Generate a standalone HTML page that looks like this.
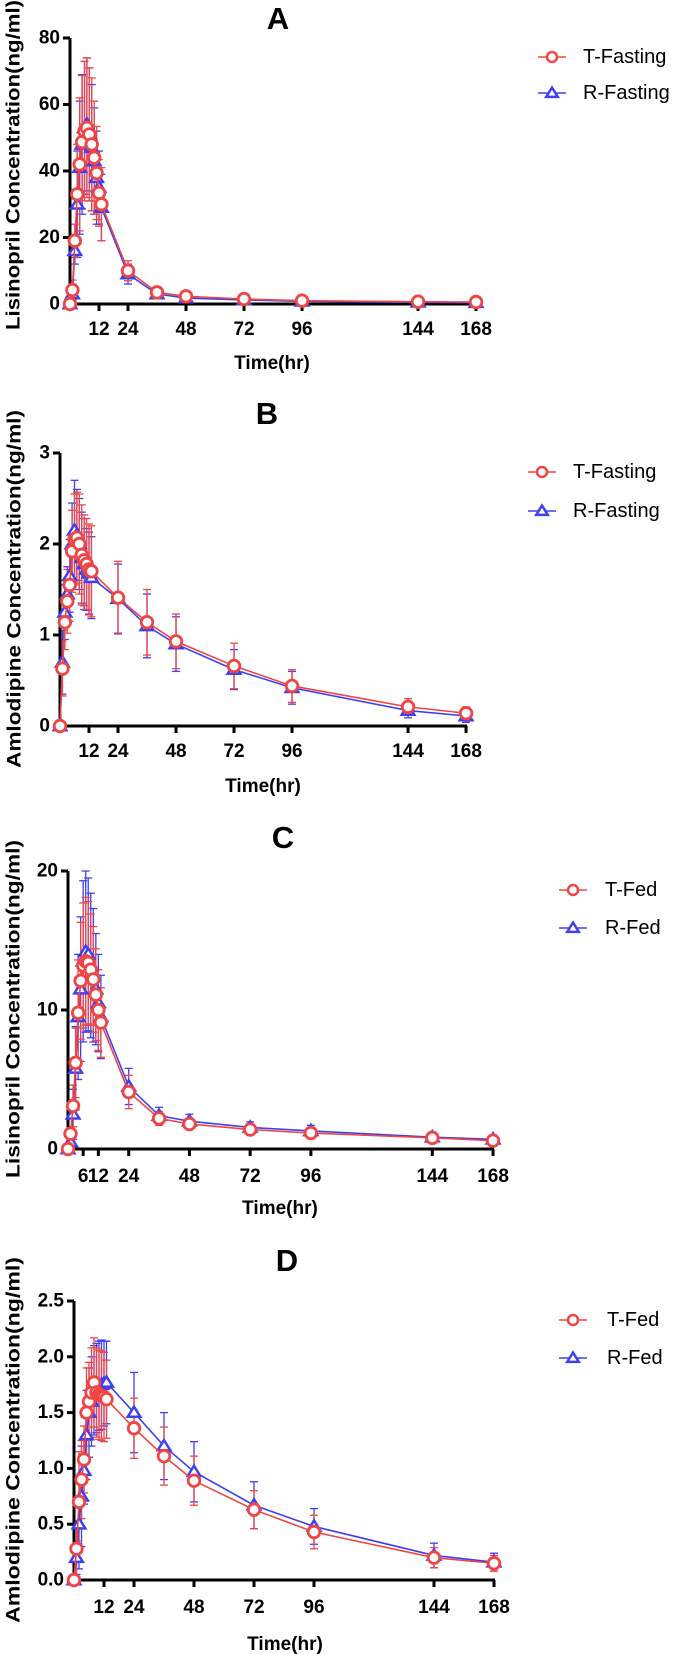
<!DOCTYPE html>
<html><head><meta charset="utf-8">
<style>
html,body{margin:0;padding:0;background:#fff;}
svg{display:block;font-family:"Liberation Sans",Arial,sans-serif;}
</style></head>
<body>
<svg id="fig" width="677" height="1655" viewBox="0 0 677 1655" xmlns="http://www.w3.org/2000/svg"></svg>
<script>
// shared sampling times (hours)
const times = [0,1,2,3,4,5,6,7,8,9,10,11,12,13,24,36,48,72,96,144,168];

// Panel A - Lisinopril fasting
const aT = [0,4.2,19,33,42,48.7,52,53,51,48,44,39.4,33.4,30,10,3.5,2.3,1.5,1.0,0.7,0.6];
const aR = [0,3,16,30,41,48,53,54,51,47,43,38,35,29,9,3,1.8,1.2,0.8,0.5,0.4];
const aTsd = [0,3,5,15,20,20,21,21,20,20,17,14,10,11,3,1,0.8,0.5,0.4,0.3,0.3];
const aRsd = [0,3,4,16,20,21,20,20,20,19,16,14,11,10,3,1,0.8,0.5,0.4,0.3,0.3];
// Panel B - Amlodipine fasting
const bT = [0,0.63,1.14,1.37,1.55,1.92,2.05,2.07,2.0,1.88,1.82,1.78,1.72,1.70,1.41,1.14,0.93,0.66,0.44,0.21,0.14];
const bR = [0,0.7,1.25,1.45,1.65,2.0,2.15,2.1,2.0,1.85,1.78,1.72,1.68,1.63,1.40,1.10,0.90,0.62,0.42,0.17,0.11];
const bTsd = [0,0.3,0.3,0.35,0.4,0.45,0.5,0.5,0.55,0.55,0.5,0.5,0.5,0.5,0.4,0.36,0.3,0.25,0.18,0.09,0.07];
const bRsd = [0,0.35,0.3,0.3,0.4,0.45,0.55,0.5,0.5,0.5,0.5,0.45,0.45,0.45,0.38,0.35,0.3,0.22,0.18,0.08,0.07];
// Panel C - Lisinopril fed
const cT = [0,1.1,3.1,6.2,9.8,12.1,13.2,13.5,13.4,12.9,12.2,11.1,10.0,9.1,4.1,2.2,1.8,1.4,1.15,0.8,0.6];
const cR = [0,0.5,2.5,5.8,9.5,11.5,13.5,14.2,14.0,13.2,12.5,11.5,10.5,9.5,4.5,2.4,2.0,1.55,1.3,0.85,0.7];
const cTsd = [0,0.5,1.5,2.5,3.8,4.2,4.5,4.6,4.4,4.0,3.8,3.3,2.9,2.5,1.2,0.5,0.4,0.35,0.3,0.3,0.25];
const cRsd = [0,0.6,1.8,3.0,4.5,5.2,5.8,5.8,5.5,5.2,4.8,4.0,3.5,3.0,1.3,0.6,0.5,0.4,0.4,0.35,0.3];
// Panel D - Amlodipine fed
const dT = [0,0.28,0.7,0.9,1.08,1.5,1.6,1.68,1.77,1.68,1.66,1.65,1.64,1.62,1.36,1.11,0.89,0.63,0.43,0.2,0.15];
const dR = [0,0.2,0.5,0.75,0.98,1.3,1.5,1.6,1.7,1.72,1.74,1.75,1.76,1.77,1.5,1.2,0.97,0.67,0.48,0.22,0.16];
const dTsd = [0,0.25,0.45,0.35,0.3,0.4,0.35,0.4,0.4,0.4,0.4,0.4,0.4,0.35,0.27,0.26,0.22,0.17,0.15,0.09,0.07];
const dRsd = [0,0.15,0.4,0.45,0.3,0.4,0.4,0.4,0.4,0.4,0.4,0.4,0.38,0.37,0.36,0.3,0.27,0.21,0.16,0.11,0.08];

const ticksA = [0,20,40,60,80];
const ticksB = [0,1,2,3];
const ticksC = [0,10,20];
const ticksD = [0,0.5,1.0,1.5,2.0,2.5];
const xTicksStd = [12,24,48,72,96,144,168];
const xTicksC = [6,12,24,48,72,96,144,168];

const RED = '#f04545', BLUE = '#4040ee';
const NS = 'http://www.w3.org/2000/svg';
const svg = document.getElementById('fig');
function mk(tag, attrs, parent){
  const e = document.createElementNS(NS, tag);
  for (const k in attrs) e.setAttribute(k, attrs[k]);
  (parent||svg).appendChild(e);
  return e;
}
function txt(s, attrs, parent){ const e = mk('text', attrs, parent); e.textContent = s; return e; }

const panels = [
  {id:'a', letter:'A', x0:70, xs:2.417, y0:304, yTop:38, ymax:80, yt:ticksA, xt:xTicksStd, dec:0,
   T:aT, R:aR, Tsd:aTsd, Rsd:aRsd, ytitle:'Lisinopril Concentration(ng/ml)', ytx:14, yty:165, ytl:330,
   titleX:278, titleY:29, tickY:335, xtitleX:272, xtitleY:369, legX:552, legTX:583, legY:[57,93], legT:['T-Fasting','R-Fasting']},
  {id:'b', letter:'B', x0:60, xs:2.417, y0:726, yTop:453, ymax:3, yt:ticksB, xt:xTicksStd, dec:0,
   T:bT, R:bR, Tsd:bTsd, Rsd:bRsd, ytitle:'Amlodipine  Concentration(ng/ml)', ytx:15, yty:589, ytl:358,
   titleX:267, titleY:424, tickY:757, xtitleX:263, xtitleY:792, legX:542, legTX:573, legY:[472,511], legT:['T-Fasting','R-Fasting']},
  {id:'c', letter:'C', x0:68, xs:2.53, y0:1149, yTop:871, ymax:20, yt:ticksC, xt:xTicksC, dec:0,
   T:cT, R:cR, Tsd:cTsd, Rsd:cRsd, ytitle:'Lisinopril Concentration(ng/ml)', ytx:14, yty:1009, ytl:338,
   titleX:283, titleY:848, tickY:1182, xtitleX:280, xtitleY:1214, legX:573, legTX:605, legY:[890,928], legT:['T-Fed','R-Fed']},
  {id:'d', letter:'D', x0:74, xs:2.5, y0:1580, yTop:1301, ymax:2.5, yt:ticksD, xt:xTicksStd, dec:1,
   T:dT, R:dR, Tsd:dTsd, Rsd:dRsd, ytitle:'Amlodipine  Concentration(ng/ml)', ytx:14, yty:1440, ytl:366,
   titleX:287, titleY:1271, tickY:1613, xtitleX:285, xtitleY:1650, legX:573, legTX:607, legY:[1320,1358], legT:['T-Fed','R-Fed']}
];

function triPts(cx, cy, s){ return `${cx},${cy-s} ${cx-s*1.05},${cy+s*0.7} ${cx+s*1.05},${cy+s*0.7}`; }

panels.forEach(p => {
  const g = mk('g', {});
  
  
  const X = t => p.x0 + t * p.xs;
  const Y = v => p.y0 - v / p.ymax * (p.y0 - p.yTop);

  const title = txt(p.letter, {x:p.titleX, y:p.titleY, 'font-size':31, 'font-weight':'bold', 'text-anchor':'middle'}, g);
  
  

  const yt = txt(p.ytitle, {x:0, y:0, 'font-size':19, 'font-weight':'bold', 'text-anchor':'middle', 'dominant-baseline':'central',
    textLength:p.ytl, lengthAdjust:'spacingAndGlyphs', transform:`translate(${p.ytx},${p.yty}) rotate(-90)`}, g);
  
  

  const xt = txt('Time(hr)', {x:p.xtitleX, y:p.xtitleY, 'font-size':19, 'font-weight':'bold', 'text-anchor':'middle'}, g);
  
  

  // series
  const series = [
    {vals:p.R, sd:p.Rsd, col:BLUE, kind:'tri', name:'r'},
    {vals:p.T, sd:p.Tsd, col:RED, kind:'circ', name:'t'}
  ];
  // error bars first
  series.forEach(s => {
    const eg = mk('g', {stroke:s.col, 'stroke-width':1.3, fill:'none'}, g);
    
    
    times.forEach((t, i) => {
      if (!s.sd[i]) return;
      const x = X(t), ya = Y(s.vals[i] + s.sd[i]), yb = Y(Math.max(0, s.vals[i] - s.sd[i]));
      mk('line', {x1:x, y1:ya, x2:x, y2:yb}, eg);
      mk('line', {x1:x-4, y1:ya, x2:x+4, y2:ya}, eg);
      mk('line', {x1:x-4, y1:yb, x2:x+4, y2:yb}, eg);
    });
  });
  // axes
  const ax = mk('g', {stroke:'#000', 'stroke-width':3, fill:'none'}, g);
  
  
  mk('line', {x1:p.x0, y1:p.yTop, x2:p.x0, y2:p.y0+1.5}, ax);
  mk('line', {x1:p.x0-1.5, y1:p.y0, x2:X(168)+1, y2:p.y0}, ax);
  p.yt.forEach(v => {
    mk('line', {x1:p.x0-7, y1:Y(v), x2:p.x0, y2:Y(v)}, ax);
    const l = txt(v.toFixed(p.dec), {x:p.x0-10, y:Y(v), 'font-size':19, 'font-weight':'bold', 'text-anchor':'end', 'dominant-baseline':'central', stroke:'none', fill:'#000'}, g);
    
    
  });
  p.xt.forEach(t => {
    mk('line', {x1:X(t), y1:p.y0, x2:X(t), y2:p.y0+7}, ax);
    const l = txt(String(t), {x:X(t), y:p.tickY, 'font-size':19, 'font-weight':'bold', 'text-anchor':'middle'}, g);
    
    
  });
  // lines and markers
  series.forEach(s => {
    const pts = times.map((t, i) => X(t) + ',' + Y(s.vals[i])).join(' ');
    const ln = mk('polyline', {points:pts, fill:'none', stroke:s.col, 'stroke-width':1.6}, g);
    
    
    times.forEach((t, i) => {
      let m;
      if (s.kind === 'circ') m = mk('circle', {cx:X(t), cy:Y(s.vals[i]), r:5.8, fill:'#fff', stroke:s.col, 'stroke-width':2.8}, g);
      else m = mk('polygon', {points:triPts(X(t), Y(s.vals[i]), 6), fill:'#fff', stroke:s.col, 'stroke-width':2.5}, g);
      
      
    });
  });
  // legend
  const lg = mk('g', {}, g);
  
  
  [0,1].forEach(k => {
    const y = p.legY[k], col = k === 0 ? RED : BLUE;
    const e = mk('g', {}, lg);
    
    
    mk('line', {x1:p.legX-14, y1:y, x2:p.legX+14, y2:y, stroke:col, 'stroke-width':1.6}, e);
    if (k === 0) mk('circle', {cx:p.legX, cy:y, r:5, fill:'#fff', stroke:col, 'stroke-width':2.5}, e);
    else mk('polygon', {points:triPts(p.legX, y, 5.5), fill:'#fff', stroke:col, 'stroke-width':2.5}, e);
    txt(p.legT[k], {x:p.legTX, y:y, 'font-size':20, 'dominant-baseline':'central'}, e);
  });
});
</script>
</body></html>
